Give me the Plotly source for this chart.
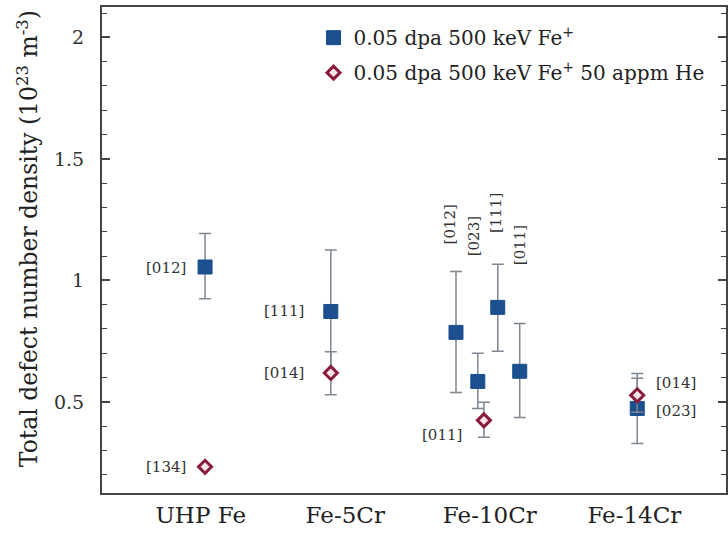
import plotly.graph_objects as go

# ---- data ----
categories = ["UHP Fe", "Fe-5Cr", "Fe-10Cr", "Fe-14Cr"]
cat_pos = [1, 2, 3, 4]

fe_x = [1.03, 1.90, 2.766, 2.917, 3.055, 3.207, 4.02]
fe_y = [1.055, 0.872, 0.786, 0.584, 0.889, 0.626, 0.473]
fe_err_plus = [0.138, 0.253, 0.251, 0.116, 0.177, 0.197, 0.144]
fe_err_minus = [0.131, 0.253, 0.247, 0.111, 0.181, 0.190, 0.144]

he_x = [1.03, 1.90, 2.959, 4.02]
he_y = [0.233, 0.619, 0.424, 0.527]
he_err_plus = [0.0, 0.087, 0.074, 0.070]
he_err_minus = [0.0, 0.090, 0.070, 0.070]

# orientation labels: (x, y, text, angle)
label_x = [0.759, 0.759, 1.579, 1.579, 2.731, 2.890, 3.048, 3.214, 2.669, 4.290, 4.290]
label_y = [1.053, 0.230, 0.872, 0.617, 1.230, 1.181, 1.276, 1.144, 0.362, 0.576, 0.461]
label_text = ["[012]", "[134]", "[111]", "[014]", "[012]", "[023]", "[111]", "[011]",
              "[011]", "[014]", "[023]"]
label_angle = [0, 0, 0, 0, -90, -90, -90, -90, 0, 0, 0]

y_title = "Total defect number density (10<sup>23</sup> m<sup>-3</sup>)"

FONT = "DejaVu Serif"
BLUE = "#1b4f8e"
RED = "#8a1a3c"
ERR = "#7d8791"

fig = go.Figure()
fig.add_trace(go.Scatter(
    x=fe_x, y=fe_y, mode="markers",
    name="0.05 dpa 500 keV Fe<sup>+</sup>",
    marker=dict(symbol="square", size=14, color=BLUE, line=dict(color=BLUE, width=1)),
    error_y=dict(type="data", symmetric=False, array=fe_err_plus, arrayminus=fe_err_minus,
                 color=ERR, thickness=1.5, width=6),
    legendgroup="a",
))
fig.add_trace(go.Scatter(
    x=he_x, y=he_y, mode="markers",
    name="0.05 dpa 500 keV Fe<sup>+</sup> 50 appm He",
    marker=dict(symbol="diamond", size=10, color="#fbe6ec", line=dict(color=RED, width=3)),
    error_y=dict(type="data", symmetric=False, array=he_err_plus, arrayminus=he_err_minus,
                 color=ERR, thickness=1.5, width=6),
    legendgroup="b",
))

for lx, ly, lt, la in zip(label_x, label_y, label_text, label_angle):
    fig.add_annotation(x=lx, y=ly, text=lt, textangle=la, showarrow=False,
                       font=dict(family=FONT, size=15, color="#333333"),
                       xanchor="center", yanchor="middle")

fig.add_annotation(x=-0.118, y=0.523, xref="paper", yref="paper", text=y_title,
                   textangle=-90, showarrow=False, xanchor="center", yanchor="middle",
                   font=dict(family=FONT, size=23.5, color="#222222"))

fig.update_layout(
    width=728, height=538,
    margin=dict(l=102, r=0, t=7, b=45),
    paper_bgcolor="white", plot_bgcolor="white",
    font=dict(family=FONT, color="#222222"),
    showlegend=True,
    legend=dict(x=0.339, y=0.977, xanchor="left", yanchor="top",
                font=dict(family=FONT, size=20, color="#222222"),
                bgcolor="rgba(0,0,0,0)", tracegroupgap=6, itemwidth=30),
    xaxis=dict(range=[0.317, 4.634], tickmode="array", tickvals=cat_pos, ticktext=categories,
               showline=True, mirror=True, linecolor="#444444", linewidth=2,
               ticks="", showgrid=False, zeroline=False,
               tickfont=dict(family=FONT, size=23, color="#222222")),
    yaxis=dict(range=[0.125, 2.125], tickvals=[0.5, 1, 1.5, 2], ticktext=["0.5", "1", "1.5", "2"],
               showline=True, mirror="allticks", linecolor="#444444", linewidth=2,
               ticks="inside", ticklen=8, tickwidth=1.5, tickcolor="#444444",
               minor=dict(ticks="inside", ticklen=5, tickwidth=1, tickcolor="#444444", dtick=0.1),
               showgrid=False, zeroline=False, ticklabelstandoff=12,
               tickfont=dict(family=FONT, size=19, color="#333333")),
)

fig.write_html("out.html")
